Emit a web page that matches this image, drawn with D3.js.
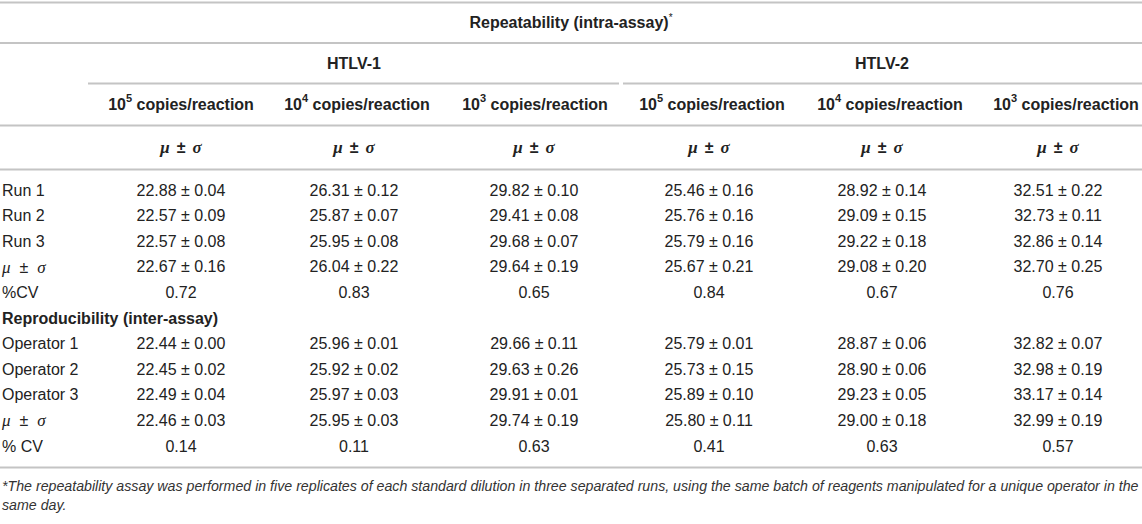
<!DOCTYPE html>
<html>
<head>
<meta charset="utf-8">
<script src="https://cdn.jsdelivr.net/npm/d3@7"></script>
<style>
  html, body { margin: 0; padding: 0; background: #fff; }
  svg { display: block; }
</style>
</head>
<body>
<svg id="chart" width="1142" height="524"></svg>
<script>
// ---------- data ----------
const title = "Repeatability (intra-assay)";
const groups = ["HTLV-1", "HTLV-2"];
const dilutionExponents = ["5", "4", "3", "5", "4", "3"];
const section2Title = "Reproducibility (inter-assay)";

const repeatLabels = ["Run 1", "Run 2", "Run 3", "μ ± σ", "%CV"];
const repeatMeans = [
  [22.88, 26.31, 29.82, 25.46, 28.92, 32.51],
  [22.57, 25.87, 29.41, 25.76, 29.09, 32.73],
  [22.57, 25.95, 29.68, 25.79, 29.22, 32.86],
  [22.67, 26.04, 29.64, 25.67, 29.08, 32.70]
];
const repeatSD = [
  [0.04, 0.12, 0.10, 0.16, 0.14, 0.22],
  [0.09, 0.07, 0.08, 0.16, 0.15, 0.11],
  [0.08, 0.08, 0.07, 0.16, 0.18, 0.14],
  [0.16, 0.22, 0.19, 0.21, 0.20, 0.25]
];
const repeatCV = [0.72, 0.83, 0.65, 0.84, 0.67, 0.76];

const reproLabels = ["Operator 1", "Operator 2", "Operator 3", "μ ± σ", "% CV"];
const reproMeans = [
  [22.44, 25.96, 29.66, 25.79, 28.87, 32.82],
  [22.45, 25.92, 29.63, 25.73, 28.90, 32.98],
  [22.49, 25.97, 29.91, 25.89, 29.23, 33.17],
  [22.46, 25.95, 29.74, 25.80, 29.00, 32.99]
];
const reproSD = [
  [0.00, 0.01, 0.11, 0.01, 0.06, 0.07],
  [0.02, 0.02, 0.26, 0.15, 0.06, 0.19],
  [0.04, 0.03, 0.01, 0.10, 0.05, 0.14],
  [0.03, 0.03, 0.19, 0.11, 0.18, 0.19]
];
const reproCV = [0.14, 0.11, 0.63, 0.41, 0.63, 0.57];

const footnoteLines = [
  "*The repeatability assay was performed in five replicates of each standard dilution in three separated runs, using the same batch of reagents manipulated for a unique operator in the",
  "same day."
];

// ---------- layout ----------
const W = 1142, H = 524;
const svg = d3.select("#chart");
const font = "'Liberation Sans', Arial, Helvetica, sans-serif";
const serif = "'Liberation Serif', 'DejaVu Serif', serif";
const textColor = "#222";
const ruleColor = "#c4c4c4";
const fmt = d3.format(".2f");
const fs = 16;

const colIdx = d3.range(6);
const xCol = d3.scaleOrdinal().domain(colIdx).range([181, 354, 534, 709, 882, 1058]);
const xHead = d3.scaleOrdinal().domain(colIdx).range([181, 357, 535, 712, 890, 1066]);
const xGroup = d3.scaleOrdinal().domain(groups).range([354, 882]);
const groupSpan = d3.scaleOrdinal().domain(groups).range([[88, 619], [623, 1142]]);

const yHead = d3.scaleOrdinal()
  .domain(["ruleTop", "title", "rule1", "group", "groupRule", "dil", "rule2", "stat", "rule3"])
  .range([2.5, 22, 43, 63, 83.5, 104, 125.5, 147, 169.5]);
const yBody = d3.scaleLinear().domain([0, 10]).range([190, 446]);
const yFoot = d3.scaleOrdinal().domain(["rule", "l0", "l1"]).range([467.5, 486, 505]);

const g = svg.append("g").attr("font-family", font).attr("fill", textColor);

function rule(y, x0 = 0, x1 = W) {
  svg.append("line").attr("x1", x0).attr("x2", x1).attr("y1", y).attr("y2", y)
    .attr("stroke", ruleColor).attr("stroke-width", 1.8);
}
["ruleTop", "rule1", "rule2", "rule3"].forEach(k => rule(yHead(k)));
groups.forEach(gr => { const s = groupSpan(gr); rule(yHead("groupRule"), s[0], s[1]); });
rule(yFoot("rule"));

// title
const t = g.append("text").attr("x", W / 2).attr("y", yHead("title"))
  .attr("text-anchor", "middle").attr("dominant-baseline", "central")
  .attr("font-size", fs).attr("font-weight", "bold");
t.append("tspan").text(title);
t.append("tspan").text("*").attr("font-size", 10).attr("font-weight", "normal").attr("dy", -5);

// groups
g.selectAll("text.group").data(groups).join("text").attr("class", "group")
  .attr("x", d => xGroup(d)).attr("y", yHead("group"))
  .attr("text-anchor", "middle").attr("dominant-baseline", "central")
  .attr("font-size", fs).attr("font-weight", "bold").text(d => d);

// dilution headers
const dil = g.selectAll("text.dil").data(colIdx).join("text").attr("class", "dil")
  .attr("x", d => xHead(d)).attr("y", yHead("dil"))
  .attr("text-anchor", "middle").attr("dominant-baseline", "central")
  .attr("font-size", fs).attr("font-weight", "bold");
dil.append("tspan").text("10");
dil.append("tspan").text(d => dilutionExponents[d]).attr("font-size", 11).attr("dy", -6);
dil.append("tspan").text(" copies/reaction").attr("dy", 6);

function muSigma(sel, bold, gap) {
  sel.append("tspan").text("μ").attr("font-style", "italic").attr("font-family", serif).attr("font-size", 17);
  sel.append("tspan").text("±").attr("dx", gap + 4).attr("font-weight", bold ? "bold" : "normal");
  sel.append("tspan").text("σ").attr("dx", gap + 4).attr("font-style", "italic").attr("font-family", serif).attr("font-size", 17);
}
g.selectAll("text.stat").data(colIdx).join("text").attr("class", "stat")
  .attr("x", d => xCol(d)).attr("y", yHead("stat"))
  .attr("text-anchor", "middle").attr("dominant-baseline", "central")
  .attr("font-size", fs).attr("font-weight", "bold")
  .each(function () { muSigma(d3.select(this), true, 3); });

// body
function drawSection(labels, means, sds, cvs, startRow) {
  labels.forEach((lab, i) => {
    const y = yBody(startRow + i);
    const lt = g.append("text").attr("x", 2).attr("y", y).attr("dominant-baseline", "central").attr("font-size", fs);
    if (lab === "μ ± σ") muSigma(lt, false, 5); else lt.text(lab);
    const vals = i < means.length ? means[i].map((m, j) => fmt(m) + " ± " + fmt(sds[i][j])) : cvs.map(fmt);
    g.selectAll(null).data(vals).join("text")
      .attr("x", (d, j) => xCol(j)).attr("y", y)
      .attr("text-anchor", "middle").attr("dominant-baseline", "central")
      .attr("font-size", fs).text(d => d);
  });
}
drawSection(repeatLabels, repeatMeans, repeatSD, repeatCV, 0);
g.append("text").attr("x", 2).attr("y", yBody(5)).attr("dominant-baseline", "central")
  .attr("font-size", fs).attr("font-weight", "bold").text(section2Title);
drawSection(reproLabels, reproMeans, reproSD, reproCV, 6);

// footnote
g.selectAll("text.foot").data(footnoteLines).join("text").attr("class", "foot")
  .attr("x", 2).attr("y", (d, i) => yFoot("l" + i)).attr("dominant-baseline", "central")
  .attr("font-size", 14.2).attr("font-style", "italic").attr("fill", "#333").text(d => d);
</script>
</body>
</html>
